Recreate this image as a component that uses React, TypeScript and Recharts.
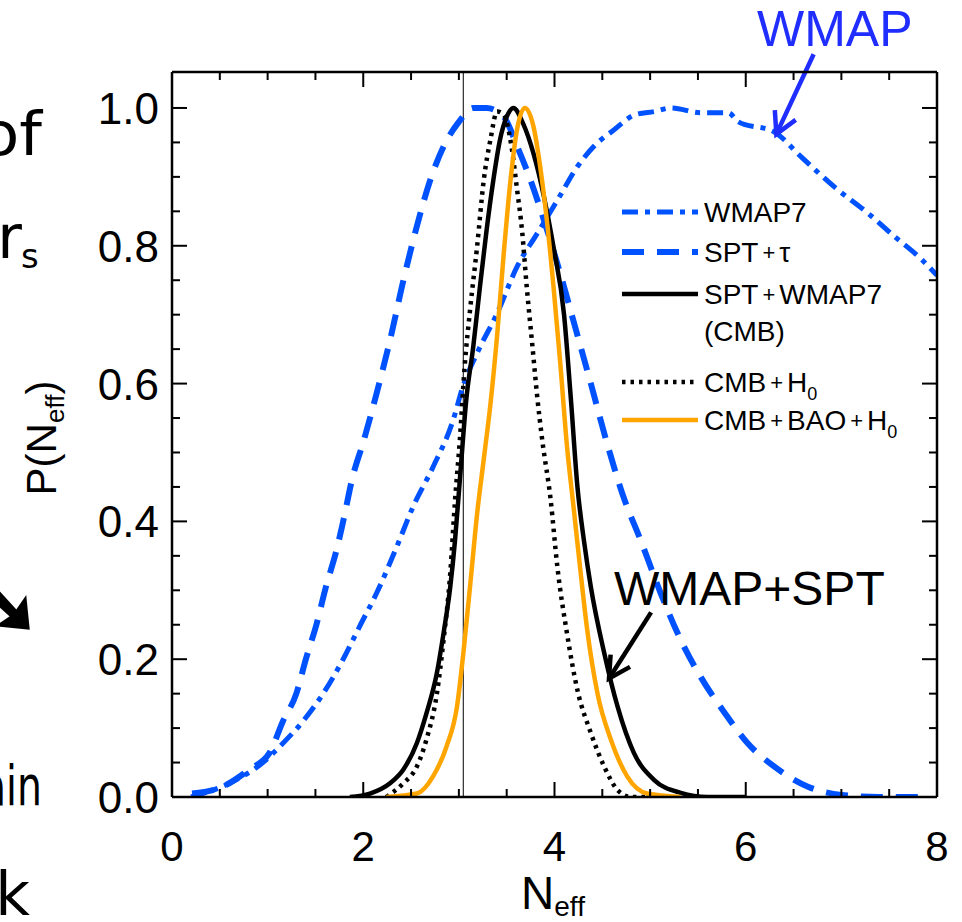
import React from 'react';
import { LineChart, Line, XAxis, YAxis, ReferenceLine, Legend } from 'recharts';

// N_eff posteriors
const WMAP7_N = [0.2, 0.6, 0.95, 1.16, 1.37, 1.58, 1.79, 1.96, 2.14, 2.35, 2.52, 2.73, 2.94, 3.04, 3.19, 3.4, 3.61, 3.82, 4.03, 4.24, 4.41, 4.62, 4.84, 5.05, 5.22, 5.53, 5.82, 5.92, 6.3, 6.58, 6.93, 7.28, 7.56, 7.84, 8.0];
const WMAP7_P = [0.0, 0.02, 0.05, 0.078, 0.11, 0.15, 0.2, 0.247, 0.296, 0.363, 0.421, 0.479, 0.547, 0.595, 0.644, 0.702, 0.77, 0.818, 0.866, 0.915, 0.944, 0.968, 0.99, 0.995, 1.0, 0.993, 0.993, 0.98, 0.965, 0.929, 0.885, 0.847, 0.813, 0.78, 0.757];

const SPT_TAU_N = [0.21, 0.53, 0.81, 1.02, 1.16, 1.3, 1.4, 1.51, 1.61, 1.72, 1.79, 1.89, 2.0, 2.14, 2.28, 2.42, 2.56, 2.7, 2.84, 2.99, 3.15, 3.29, 3.47, 3.61, 3.75, 3.89, 4.06, 4.2, 4.38, 4.55, 4.72, 4.9, 5.11, 5.32, 5.53, 5.78, 6.02, 6.3, 6.65, 7.0, 7.4, 7.8];
const SPT_TAU_P = [0.005, 0.015, 0.04, 0.064, 0.11, 0.15, 0.2, 0.25, 0.305, 0.358, 0.4, 0.465, 0.515, 0.586, 0.663, 0.75, 0.828, 0.895, 0.944, 0.978, 1.0, 1.0, 0.987, 0.944, 0.895, 0.837, 0.76, 0.69, 0.6, 0.513, 0.436, 0.373, 0.296, 0.228, 0.174, 0.122, 0.078, 0.044, 0.015, 0.003, 0.0, 0.0];

const CMB_N = [1.86, 2.07, 2.28, 2.42, 2.56, 2.66, 2.77, 2.84, 2.91, 2.96, 3.01, 3.08, 3.15, 3.22, 3.29, 3.36, 3.43, 3.5, 3.57, 3.67, 3.78, 3.89, 3.99, 4.1, 4.17, 4.24, 4.31, 4.38, 4.52, 4.66, 4.83, 5.04, 5.32, 5.6, 6.0];
const CMB_P = [0.0, 0.005, 0.02, 0.04, 0.078, 0.121, 0.18, 0.238, 0.305, 0.373, 0.46, 0.58, 0.653, 0.74, 0.823, 0.895, 0.954, 0.987, 1.0, 0.978, 0.934, 0.871, 0.798, 0.7, 0.58, 0.45, 0.37, 0.305, 0.209, 0.131, 0.064, 0.025, 0.006, 0.0, 0.0];

const CMB_H0_N = [2.24, 2.42, 2.56, 2.66, 2.77, 2.84, 2.91, 2.96, 3.01, 3.06, 3.12, 3.19, 3.26, 3.33, 3.4, 3.47, 3.55, 3.61, 3.66, 3.71, 3.77, 3.82, 3.87, 3.96, 4.03, 4.13, 4.24, 4.38, 4.52, 4.66, 4.8, 5.08];
const CMB_H0_P = [0.0, 0.02, 0.044, 0.083, 0.15, 0.228, 0.325, 0.431, 0.518, 0.624, 0.711, 0.798, 0.895, 0.954, 0.995, 0.99, 0.944, 0.88, 0.823, 0.74, 0.653, 0.58, 0.52, 0.431, 0.334, 0.238, 0.155, 0.093, 0.044, 0.01, 0.0, 0.0];

const CMB_BAO_N = [2.24, 2.56, 2.73, 2.87, 2.98, 3.05, 3.12, 3.19, 3.26, 3.33, 3.4, 3.47, 3.54, 3.61, 3.69, 3.78, 3.85, 3.92, 3.99, 4.06, 4.13, 4.2, 4.27, 4.34, 4.45, 4.59, 4.76, 4.97, 5.32];
const CMB_BAO_P = [0.0, 0.005, 0.03, 0.073, 0.131, 0.213, 0.31, 0.41, 0.49, 0.57, 0.67, 0.79, 0.895, 0.97, 1.0, 0.973, 0.915, 0.837, 0.74, 0.63, 0.51, 0.42, 0.33, 0.245, 0.15, 0.083, 0.03, 0.005, 0.0];

const X_TICKS = [0, 0.5, 1, 1.5, 2, 2.5, 3, 3.5, 4, 4.5, 5, 5.5, 6, 6.5, 7, 7.5, 8];
const Y_TICKS = [0, 0.05, 0.1, 0.15, 0.2, 0.25, 0.3, 0.35, 0.4, 0.45, 0.5, 0.55, 0.6, 0.65, 0.7, 0.75, 0.8, 0.85, 0.9, 0.95, 1.0];
const N_STANDARD = 3.046;

// annotation arrows: [tail, head] in data units
const WMAP_ARROW = [{ x: 6.71, y: 1.078 }, { x: 6.32, y: 0.962 }];
const COMBO_ARROW = [{ x: 5.01, y: 0.268 }, { x: 4.57, y: 0.172 }];

const BLUE = '#0052ff';
const FONT = '"Liberation Sans", Arial, Helvetica, sans-serif';
const SLIDE_FONT = '"Comic Sans MS", "DejaVu Sans", sans-serif';

const toPoints = (n: number[], p: number[]) => n.map((x, i) => ({ n: x, p: p[i] }));

const SERIES = [
  { key: 'wmap7', data: toPoints(WMAP7_N, WMAP7_P), color: BLUE, width: 5, dash: '16 7 5 7' },
  { key: 'spt', data: toPoints(SPT_TAU_N, SPT_TAU_P), color: BLUE, width: 6, dash: '22 13' },
  { key: 'cmb', data: toPoints(CMB_N, CMB_P), color: '#000', width: 4.5, dash: undefined },
  { key: 'cmbh0', data: toPoints(CMB_H0_N, CMB_H0_P), color: '#000', width: 4.5, dash: '3.5 5' },
  { key: 'cmbbao', data: toPoints(CMB_BAO_N, CMB_BAO_P), color: '#ffa500', width: 4.5, dash: undefined },
];

const isMajorX = (v: number) => v % 2 === 0;
const isMajorY = (v: number) => Math.abs(v * 5 - Math.round(v * 5)) < 1e-6;

const BottomTick = ({ x, y, payload }: any) => {
  const major = isMajorX(payload.value);
  return (
    <g>
      <line x1={x} x2={x} y1={y} y2={y - (major ? 15 : 8)} stroke="#000" strokeWidth={2} />
      {major && (
        <text x={x} y={y + 64} textAnchor="middle" fontSize={42} fontFamily={FONT} fill="#000">
          {payload.value}
        </text>
      )}
    </g>
  );
};

const TopTick = ({ x, y, payload }: any) => (
  <line x1={x} x2={x} y1={y} y2={y + (isMajorX(payload.value) ? 15 : 8)} stroke="#000" strokeWidth={2} />
);

const LeftTick = ({ x, y, payload }: any) => {
  const major = isMajorY(payload.value);
  return (
    <g>
      <line x1={x} x2={x + (major ? 15 : 8)} y1={y} y2={y} stroke="#000" strokeWidth={2} />
      {major && (
        <text x={x - 13} y={y + 16} textAnchor="end" fontSize={44} fontFamily={FONT} fill="#000">
          {payload.value.toFixed(1)}
        </text>
      )}
    </g>
  );
};

const RightTick = ({ x, y, payload }: any) => (
  <line x1={x} x2={x - (isMajorY(payload.value) ? 15 : 8)} y1={y} y2={y} stroke="#000" strokeWidth={2} />
);

const arrowShape = (color: string) => (props: any) => {
  const { x1, y1, x2, y2 } = props;
  const a = Math.atan2(y2 - y1, x2 - x1);
  const L = 24;
  const h1 = [x2 - L * Math.cos(a - 0.5), y2 - L * Math.sin(a - 0.5)];
  const h2 = [x2 - L * Math.cos(a + 0.5), y2 - L * Math.sin(a + 0.5)];
  return (
    <g>
      <line x1={x1} y1={y1} x2={x2} y2={y2} stroke={color} strokeWidth={4.5} />
      <polyline
        points={`${h1[0]},${h1[1]} ${x2},${y2} ${h2[0]},${h2[1]}`}
        fill="none"
        stroke={color}
        strokeWidth={4.5}
        strokeLinejoin="miter"
      />
    </g>
  );
};

const Plus = () => (
  <tspan fontSize={22} dx={4} dy={-2}>
    +
  </tspan>
);

const LegendBox = () => {
  const rows = [
    { s: SERIES[0], y: 20 },
    { s: SERIES[1], y: 60 },
    { s: SERIES[2], y: 102 },
    { s: SERIES[3], y: 190 },
    { s: SERIES[4], y: 228 },
  ];
  return (
    <svg width={340} height={250} style={{ overflow: 'visible' }}>
      {rows.map(({ s, y }) => (
        <line key={s.key} x1={10} x2={86} y1={y} y2={y} stroke={s.color} strokeWidth={s.width} strokeDasharray={s.dash} />
      ))}
      <g fontFamily={FONT} fontSize={28} fill="#000">
        <text x={92} y={30}>WMAP7</text>
        <text x={92} y={70}>
          SPT<Plus />
          <tspan dx={4} dy={2}>τ</tspan>
        </text>
        <text x={92} y={112}>
          SPT<Plus />
          <tspan dx={4} dy={2}>WMAP7</tspan>
        </text>
        <text x={92} y={149}>(CMB)</text>
        <text x={92} y={200}>
          CMB<Plus />
          <tspan dx={4} dy={2}>H</tspan>
          <tspan fontSize={18} dy={8}>0</tspan>
        </text>
        <text x={92} y={238}>
          CMB<Plus />
          <tspan dx={4} dy={2}>BAO</tspan>
          <Plus />
          <tspan dx={4} dy={2}>H</tspan>
          <tspan fontSize={18} dy={8}>0</tspan>
        </text>
      </g>
    </svg>
  );
};

const App: React.FC = () => {
  return (
    <div style={{ position: 'absolute', left: 0, top: 0, width: 962, height: 922, overflow: 'hidden', background: '#fff' }}>
      <LineChart width={962} height={922} margin={{ top: 71, right: 24, bottom: 124, left: 171 }}>
        <XAxis
          dataKey="n"
          type="number"
          domain={[0, 8]}
          ticks={X_TICKS}
          interval={0}
          height={1}
          tickSize={0}
          tickMargin={0}
          tickLine={false}
          tick={<BottomTick />}
          axisLine={{ stroke: '#000', strokeWidth: 2.5 }}
          allowDataOverflow
        />
        <XAxis
          xAxisId="top"
          orientation="top"
          dataKey="n"
          type="number"
          domain={[0, 8]}
          ticks={X_TICKS}
          interval={0}
          height={1}
          tickSize={0}
          tickMargin={0}
          tickLine={false}
          tick={<TopTick />}
          axisLine={{ stroke: '#000', strokeWidth: 2.5 }}
          allowDataOverflow
        />
        <YAxis
          type="number"
          domain={[0, 1.0522]}
          ticks={Y_TICKS}
          interval={0}
          width={1}
          tickSize={0}
          tickMargin={0}
          tickLine={false}
          tick={<LeftTick />}
          axisLine={{ stroke: '#000', strokeWidth: 2.5 }}
          allowDataOverflow
        />
        <YAxis
          yAxisId="right"
          orientation="right"
          type="number"
          domain={[0, 1.0522]}
          ticks={Y_TICKS}
          interval={0}
          width={1}
          tickSize={0}
          tickMargin={0}
          tickLine={false}
          tick={<RightTick />}
          axisLine={{ stroke: '#000', strokeWidth: 2.5 }}
          allowDataOverflow
        />
        <ReferenceLine x={N_STANDARD} stroke="#000" strokeWidth={1} />
        {SERIES.map((s) => (
          <Line
            key={s.key}
            data={s.data}
            dataKey="p"
            type="monotone"
            stroke={s.color}
            strokeWidth={s.width}
            strokeDasharray={s.dash}
            dot={false}
            activeDot={false}
            isAnimationActive={false}
          />
        ))}
        <ReferenceLine segment={WMAP_ARROW} ifOverflow="visible" shape={arrowShape('#1f2dff')} />
        <ReferenceLine segment={COMBO_ARROW} ifOverflow="visible" shape={arrowShape('#000')} />
        <Legend
          layout="vertical"
          align="center"
          verticalAlign="middle"
          wrapperStyle={{ left: 612, top: 192, width: 340, height: 250 }}
          content={() => <LegendBox />}
        />
      </LineChart>

      <svg width={962} height={922} style={{ position: 'absolute', left: 0, top: 0, pointerEvents: 'none' }}>
        <text x={757} y={46} fontSize={50} fontFamily={FONT} fill="#1f2dff">WMAP</text>
        <text x={614} y={605} fontSize={48} fontFamily={FONT} fill="#000">WMAP+SPT</text>

        <text x={553} y={909} textAnchor="middle" fontSize={46} fontFamily={FONT} fill="#000">
          N<tspan fontSize={28} dy={7}>eff</tspan>
        </text>
        <text x={56} y={438} transform="rotate(-90 56 438)" textAnchor="middle" fontSize={42} fontFamily={FONT} fill="#000">
          P(N<tspan fontSize={26} dy={8}>eff</tspan>
          <tspan dy={-8}>)</tspan>
        </text>

        <g fontFamily={SLIDE_FONT} fill="#000">
          <text x={42} y={155} textAnchor="end" fontSize={60} textLength={62} lengthAdjust="spacingAndGlyphs">of</text>
          <text x={22} y={258} textAnchor="end" fontSize={60}>r</text>
          <text x={21} y={268} fontSize={34}>s</text>
          <text x={40} y={632} textAnchor="end" fontSize={80} stroke="#000" strokeWidth={4}>➘</text>
          <text x={42} y={805} textAnchor="end" fontSize={56} textLength={60} lengthAdjust="spacingAndGlyphs">ain</text>
          <text x={30} y={915} textAnchor="end" fontSize={60}>k</text>
        </g>
      </svg>
    </div>
  );
};

export default App;
